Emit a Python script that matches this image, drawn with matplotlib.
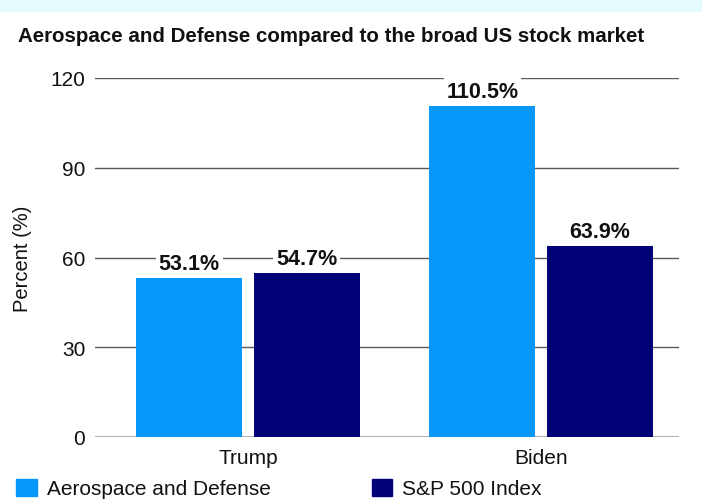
import matplotlib.pyplot as plt
from matplotlib.patches import Patch, Rectangle
import numpy as np

plt.rcParams['font.family'] = ['Liberation Sans', 'DejaVu Sans']

presidents = ["Trump", "Biden"]
aero_defense = [53.1, 110.5]
sp500 = [54.7, 63.9]
series_names = ["Aerospace and Defense", "S&P 500 Index"]
yticks = [0, 30, 60, 90, 120]

LIGHT = "#0797F9"
NAVY = "#020177"

fig = plt.figure(figsize=(7.02, 5.02), dpi=100)
# light strip across the top
fig.patches.append(Rectangle((0, 1 - 12 / 502), 1, 12 / 502, transform=fig.transFigure,
                             color="#E4FAFD", zorder=0))

ax = fig.add_axes([95 / 702, 1 - 438 / 502, 584 / 702, 359 / 502])

x = np.arange(len(presidents))
w = 0.362
b1 = ax.bar(x - 0.2, aero_defense, w, color=LIGHT, zorder=2)
b2 = ax.bar(x + 0.2, sp500, w, color=NAVY, zorder=2)

for bars in (b1, b2):
    labels = ax.bar_label(bars, fmt="%.1f%%", padding=3, fontsize=15.5,
                          fontweight="bold", color="#111111", zorder=3)
    for t in labels:
        t.set_bbox(dict(facecolor="white", edgecolor="none", pad=2))

ax.set_ylim(0, 120)
ax.set_xlim(-0.522, 1.471)
ax.set_yticks(yticks)
ax.set_xticks(x)
ax.set_xticklabels(presidents)
ax.yaxis.grid(True, color="#5a5a5a", linewidth=1.0)
ax.set_axisbelow(True)
ax.axhline(0, color="black", linewidth=1.0, zorder=1)
for s in ax.spines.values():
    s.set_visible(False)
ax.tick_params(axis="both", length=0, labelsize=15, colors="#111111")
ax.tick_params(axis="y", pad=7)
ax.tick_params(axis="x", pad=8)
ax.set_ylabel("Percent (%)", fontsize=14.5, color="#111111", labelpad=13)

fig.text(18 / 702, 1 - 36 / 502, "Aerospace and Defense compared to the broad US stock market",
         fontsize=14.8, fontweight="bold", va="center", ha="left", color="#111111")

handles = [Patch(color=LIGHT), Patch(color=NAVY)]
fig.legend(handles, series_names, loc="lower left", bbox_to_anchor=(-3 / 702, -0.032),
           ncol=2, frameon=False, fontsize=15, handlelength=1.0, handleheight=0.87,
           handletextpad=0.48, columnspacing=4.85, labelcolor="#111111")

plt.savefig("out.png", dpi=100)
